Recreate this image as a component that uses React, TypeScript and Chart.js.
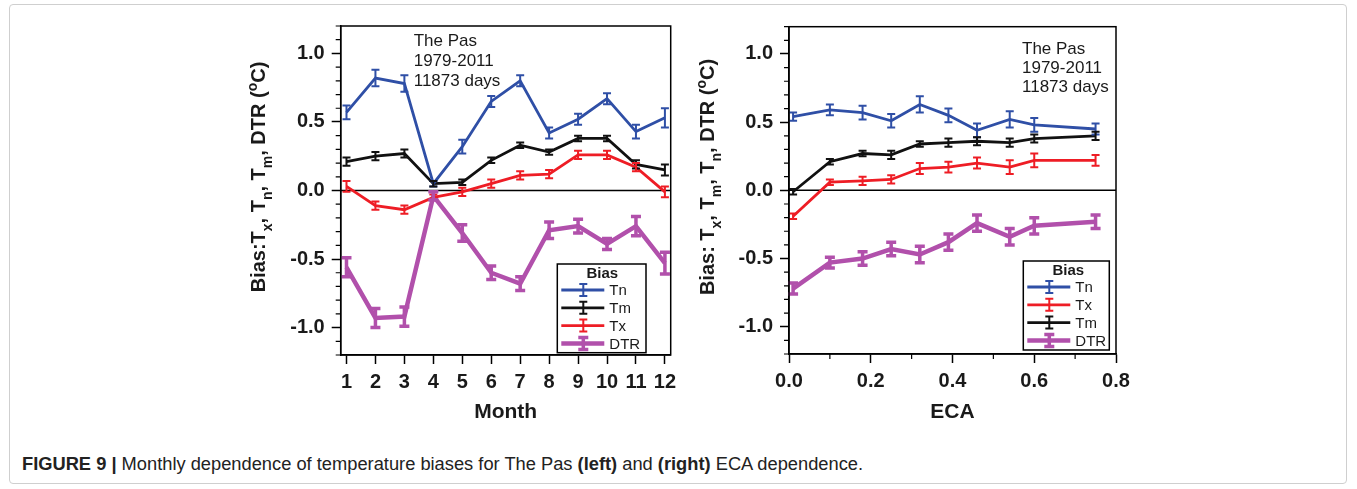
import React, { useEffect, useRef } from 'react';
import { Chart, registerables } from 'chart.js';
Chart.register(...registerables);

// ---------- data ----------
const months = [1, 2, 3, 4, 5, 6, 7, 8, 9, 10, 11, 12];
const monthTn = [0.57, 0.82, 0.78, 0.05, 0.32, 0.65, 0.80, 0.42, 0.52, 0.67, 0.43, 0.53];
const monthTnErr = [0.05, 0.06, 0.06, 0.02, 0.05, 0.04, 0.04, 0.04, 0.04, 0.04, 0.05, 0.07];
const monthTm = [0.21, 0.25, 0.27, 0.05, 0.06, 0.22, 0.33, 0.28, 0.38, 0.38, 0.19, 0.15];
const monthTmErr = [0.03, 0.03, 0.03, 0.02, 0.02, 0.02, 0.02, 0.02, 0.02, 0.02, 0.03, 0.04];
const monthTx = [0.03, -0.11, -0.14, -0.05, -0.01, 0.05, 0.11, 0.12, 0.26, 0.26, 0.17, -0.01];
const monthTxErr = [0.04, 0.03, 0.03, 0.02, 0.03, 0.03, 0.03, 0.03, 0.03, 0.03, 0.03, 0.04];
const monthDtr = [-0.56, -0.93, -0.92, -0.04, -0.31, -0.60, -0.68, -0.29, -0.26, -0.39, -0.26, -0.53];
const monthDtrErr = [0.07, 0.07, 0.07, 0.03, 0.06, 0.05, 0.05, 0.06, 0.05, 0.04, 0.07, 0.08];

const ecaBins = [0.01, 0.10, 0.18, 0.25, 0.32, 0.39, 0.46, 0.54, 0.60, 0.75];
const ecaTn = [0.54, 0.59, 0.57, 0.51, 0.63, 0.55, 0.44, 0.52, 0.48, 0.45];
const ecaTnErr = [0.03, 0.04, 0.05, 0.05, 0.06, 0.05, 0.05, 0.06, 0.05, 0.04];
const ecaTx = [-0.19, 0.06, 0.07, 0.08, 0.16, 0.17, 0.20, 0.17, 0.22, 0.22];
const ecaTxErr = [0.02, 0.02, 0.03, 0.03, 0.04, 0.04, 0.04, 0.05, 0.05, 0.04];
const ecaTm = [-0.01, 0.21, 0.27, 0.26, 0.34, 0.35, 0.36, 0.35, 0.38, 0.40];
const ecaTmErr = [0.02, 0.02, 0.02, 0.03, 0.02, 0.03, 0.03, 0.03, 0.03, 0.03];
const ecaDtr = [-0.72, -0.53, -0.50, -0.43, -0.47, -0.38, -0.24, -0.34, -0.26, -0.23];
const ecaDtrErr = [0.04, 0.04, 0.05, 0.05, 0.06, 0.06, 0.06, 0.06, 0.06, 0.05];

const yTickValues = [-1.0, -0.5, 0.0, 0.5, 1.0];
const monthTickValues = months;
const ecaTickValues = [0.0, 0.2, 0.4, 0.6, 0.8];

const annotationLines = ['The Pas', '1979-2011', '11873 days'];
const legendTitle = 'Bias';
const caption = {
  bold1: 'FIGURE 9 |',
  t1: ' Monthly dependence of temperature biases for The Pas ',
  bold2: '(left)',
  t2: ' and ',
  bold3: '(right)',
  t3: ' ECA dependence.',
};

type Seg = { t: string; k: 'n' | 'sub' | 'sup' };
const yTitleLeft: Seg[] = [
  { t: 'Bias:T', k: 'n' }, { t: 'x', k: 'sub' }, { t: ', T', k: 'n' }, { t: 'n', k: 'sub' },
  { t: ', T', k: 'n' }, { t: 'm', k: 'sub' }, { t: ', DTR (', k: 'n' }, { t: 'o', k: 'sup' }, { t: 'C)', k: 'n' },
];
const yTitleRight: Seg[] = [
  { t: 'Bias: T', k: 'n' }, { t: 'x', k: 'sub' }, { t: ', T', k: 'n' }, { t: 'm', k: 'sub' },
  { t: ', T', k: 'n' }, { t: 'n', k: 'sub' }, { t: ', DTR (', k: 'n' }, { t: 'o', k: 'sup' }, { t: 'C)', k: 'n' },
];

// ---------- styles ----------
const FONT = '"Liberation Sans", Arial, Helvetica, sans-serif';
const BLUE = '#2f4fa6';
const BLACK = '#111111';
const RED = '#ee1d25';
const PURPLE = '#b150ab';

interface Series { label: string; color: string; values: number[]; errs: number[]; lw: number; ew: number; cap: number; }

function drawRichVertical(ctx: CanvasRenderingContext2D, segs: Seg[], cx: number, cy: number, size: number) {
  ctx.save();
  ctx.translate(cx, cy);
  ctx.rotate(-Math.PI / 2);
  const fN = `bold ${size}px ${FONT}`;
  const fS = `bold ${Math.round(size * 0.7)}px ${FONT}`;
  const widths = segs.map((s) => { ctx.font = s.k === 'n' ? fN : fS; return ctx.measureText(s.t).width; });
  const total = widths.reduce((a, b) => a + b, 0);
  let x = -total / 2;
  ctx.fillStyle = '#1a1a1a';
  ctx.textAlign = 'left';
  ctx.textBaseline = 'alphabetic';
  segs.forEach((s, i) => {
    ctx.font = s.k === 'n' ? fN : fS;
    const dy = s.k === 'sub' ? size * 0.32 : s.k === 'sup' ? -size * 0.42 : 0;
    ctx.fillText(s.t, x, dy + size * 0.36);
    x += widths[i];
  });
  ctx.restore();
}

function errSymbol(ctx: CanvasRenderingContext2D, x: number, yTop: number, yBot: number, cap: number, w: number, color: string) {
  ctx.strokeStyle = color;
  ctx.lineWidth = w;
  ctx.lineCap = 'butt';
  ctx.beginPath();
  ctx.moveTo(x, yTop); ctx.lineTo(x, yBot);
  ctx.moveTo(x - cap / 2, yTop); ctx.lineTo(x + cap / 2, yTop);
  ctx.moveTo(x - cap / 2, yBot); ctx.lineTo(x + cap / 2, yBot);
  ctx.stroke();
}

interface PanelOpts {
  xs: number[];
  series: Series[];
  xMin: number; xMax: number; xKeep: number[]; xMinorStep: number | null; xDecimals: number;
  xTitle: string;
  yTitle: Seg[]; yTitleX: number; yTitleY: number;
  padding: { left: number; top: number; right: number; bottom: number };
  yAxisWidth: number; xAxisHeight: number;
  annot: { dx: number; dy: number; gap: number };
  legend: { dxRight: number; dyBottom: number; w: number; h: number };
}

function near(v: number, list: number[]) { return list.some((t) => Math.abs(t - v) < 1e-6); }

function buildConfig(p: PanelOpts): any {
  const datasets = p.series.map((s) => ({
    label: s.label,
    data: p.xs.map((x, i) => ({ x, y: s.values[i] })),
    borderColor: s.color,
    backgroundColor: s.color,
    borderWidth: s.lw,
    pointRadius: 0,
    tension: 0,
    errs: s.errs, ew: s.ew, cap: s.cap,
  }));

  const deco = {
    id: 'deco',
    beforeDatasetsDraw(chart: any) {
      const { ctx, chartArea: a, scales } = chart;
      const y0 = scales.y.getPixelForValue(0);
      ctx.save();
      ctx.strokeStyle = '#000';
      ctx.lineWidth = 1.5;
      ctx.beginPath(); ctx.moveTo(a.left, y0); ctx.lineTo(a.right, y0); ctx.stroke();
      ctx.restore();
    },
    afterDatasetsDraw(chart: any) {
      const { ctx, scales } = chart;
      ctx.save();
      chart.data.datasets.forEach((ds: any, i: number) => {
        const meta = chart.getDatasetMeta(i);
        meta.data.forEach((pt: any, j: number) => {
          const v = ds.data[j].y; const e = ds.errs[j];
          errSymbol(ctx, pt.x, scales.y.getPixelForValue(v + e), scales.y.getPixelForValue(v - e), ds.cap, ds.ew, ds.borderColor);
        });
      });
      ctx.restore();
    },
    afterDraw(chart: any) {
      const { ctx, chartArea: a, scales } = chart;
      ctx.save();
      ctx.strokeStyle = '#000';
      ctx.lineWidth = 1.5;
      ctx.strokeRect(a.left, a.top, a.right - a.left, a.bottom - a.top);
      ctx.lineWidth = 1.2;
      ctx.beginPath();
      for (let k = Math.ceil(scales.y.min * 10 - 1e-6); k <= Math.floor(scales.y.max * 10 + 1e-6); k++) {
        const v = k / 10;
        if (near(v, yTickValues)) continue;
        const py = scales.y.getPixelForValue(v);
        ctx.moveTo(a.left - 5, py); ctx.lineTo(a.left, py);
      }
      if (p.xMinorStep) {
        const n = Math.round((p.xMax - p.xMin) / p.xMinorStep);
        for (let k = 0; k <= n; k++) {
          const v = p.xMin + k * p.xMinorStep;
          if (near(v, p.xKeep)) continue;
          const px = scales.x.getPixelForValue(v);
          ctx.moveTo(px, a.bottom); ctx.lineTo(px, a.bottom + 5);
        }
      }
      ctx.stroke();
      ctx.fillStyle = '#1a1a1a';
      ctx.font = `17px ${FONT}`;
      ctx.textAlign = 'left';
      ctx.textBaseline = 'middle';
      annotationLines.forEach((t, i) => ctx.fillText(t, a.left + p.annot.dx, a.top + p.annot.dy + i * p.annot.gap));
      const L = p.legend;
      const x0 = a.right - L.dxRight - L.w;
      const y0 = a.bottom - L.dyBottom - L.h;
      ctx.fillStyle = '#fff';
      ctx.fillRect(x0, y0, L.w, L.h);
      ctx.strokeStyle = '#000';
      ctx.lineWidth = 1.5;
      ctx.strokeRect(x0, y0, L.w, L.h);
      ctx.fillStyle = '#1a1a1a';
      ctx.font = `bold 15px ${FONT}`;
      ctx.textAlign = 'center';
      ctx.fillText(legendTitle, x0 + 45, y0 + 10);
      ctx.textAlign = 'left';
      ctx.font = `15px ${FONT}`;
      chart.data.datasets.forEach((ds: any, i: number) => {
        const ly = y0 + 26 + i * 17.8;
        ctx.strokeStyle = ds.borderColor;
        ctx.lineWidth = ds.borderWidth;
        ctx.beginPath(); ctx.moveTo(x0 + 4, ly); ctx.lineTo(x0 + 47, ly); ctx.stroke();
        errSymbol(ctx, x0 + 26, ly - 6, ly + 6, ds.cap, ds.ew, ds.borderColor);
        ctx.fillStyle = '#1a1a1a';
        ctx.fillText(ds.label, x0 + 52, ly + 1);
      });
      drawRichVertical(ctx, p.yTitle, p.yTitleX, p.yTitleY, 20);
      ctx.restore();
    },
  };

  const tickFont = { family: FONT, size: 20, weight: 'bold' as const };
  return {
    type: 'line',
    data: { datasets },
    plugins: [deco],
    options: {
      animation: false,
      responsive: false,
      devicePixelRatio: 1,
      layout: { padding: p.padding },
      plugins: { legend: { display: false }, tooltip: { enabled: false } },
      scales: {
        x: {
          type: 'linear',
          min: p.xMin, max: p.xMax,
          afterFit: (s: any) => { s.height = p.xAxisHeight; },
          afterBuildTicks: (s: any) => { s.ticks = p.xKeep.map((v) => ({ value: v })); },
          ticks: {
            autoSkip: false, maxRotation: 0, padding: 6,
            color: '#1a1a1a', font: tickFont,
            callback: (v: number) => (p.xDecimals ? Number(v).toFixed(p.xDecimals) : String(Math.round(v))),
          },
          grid: { display: true, drawOnChartArea: false, drawTicks: true, tickLength: 9, tickWidth: 1.5, tickColor: '#000' },
          border: { display: true, color: '#000', width: 1.5 },
          title: { display: true, text: p.xTitle, color: '#1a1a1a', font: { family: FONT, size: 21, weight: 'bold' }, padding: { top: 0, bottom: 15 } },
        },
        y: {
          type: 'linear',
          min: -1.2, max: 1.2,
          afterFit: (s: any) => { s.width = p.yAxisWidth; },
          afterBuildTicks: (s: any) => { s.ticks = yTickValues.map((v) => ({ value: v })); },
          ticks: { autoSkip: false, padding: 7, color: '#1a1a1a', font: tickFont, callback: (v: number) => Number(v).toFixed(1) },
          grid: { display: true, drawOnChartArea: false, drawTicks: true, tickLength: 9, tickWidth: 1.5, tickColor: '#000' },
          border: { display: true, color: '#000', width: 1.5 },
        },
      },
    },
  };
}

const leftOpts: PanelOpts = {
  xs: months,
  series: [
    { label: 'Tn', color: BLUE, values: monthTn, errs: monthTnErr, lw: 2.8, ew: 2, cap: 8 },
    { label: 'Tm', color: BLACK, values: monthTm, errs: monthTmErr, lw: 2.8, ew: 2, cap: 8 },
    { label: 'Tx', color: RED, values: monthTx, errs: monthTxErr, lw: 2.8, ew: 2, cap: 8 },
    { label: 'DTR', color: PURPLE, values: monthDtr, errs: monthDtrErr, lw: 4.5, ew: 3.5, cap: 10 },
  ],
  xMin: 0.8, xMax: 12.2, xKeep: monthTickValues, xMinorStep: null, xDecimals: 0,
  xTitle: 'Month',
  yTitle: yTitleLeft, yTitleX: 28, yTitleY: 177,
  padding: { left: 0, top: 26, right: 19.3, bottom: 0 },
  yAxisWidth: 110.7, xAxisHeight: 85,
  annot: { dx: 73, dy: 15, gap: 20 },
  legend: { dxRight: 24.7, dyBottom: 2.3, w: 88.7, h: 88.7 },
};

const rightOpts: PanelOpts = {
  xs: ecaBins,
  series: [
    { label: 'Tn', color: BLUE, values: ecaTn, errs: ecaTnErr, lw: 2.8, ew: 2, cap: 8 },
    { label: 'Tx', color: RED, values: ecaTx, errs: ecaTxErr, lw: 2.8, ew: 2, cap: 8 },
    { label: 'Tm', color: BLACK, values: ecaTm, errs: ecaTmErr, lw: 2.8, ew: 2, cap: 8 },
    { label: 'DTR', color: PURPLE, values: ecaDtr, errs: ecaDtrErr, lw: 4.5, ew: 3.5, cap: 10 },
  ],
  xMin: 0, xMax: 0.8, xKeep: ecaTickValues, xMinorStep: 0.1, xDecimals: 1,
  xTitle: 'ECA',
  yTitle: yTitleRight, yTitleX: 27, yTitleY: 177,
  padding: { left: 0, top: 26.7, right: 24, bottom: 0 },
  yAxisWidth: 109, xAxisHeight: 86,
  annot: { dx: 233, dy: 22.6, gap: 19 },
  legend: { dxRight: 6.7, dyBottom: 4, w: 86, h: 89 },
};

function Panel({ opts, left }: { opts: PanelOpts; left: number }) {
  const ref = useRef<HTMLCanvasElement>(null);
  useEffect(() => {
    const chart = new Chart(ref.current as HTMLCanvasElement, buildConfig(opts));
    return () => chart.destroy();
  }, [opts]);
  return (
    <canvas ref={ref} width={460} height={440}
      style={{ position: 'absolute', left, top: 0, width: 460, height: 440 }} />
  );
}

export default function App() {
  return (
    <div style={{ position: 'fixed', left: 0, top: 0, width: 1357, height: 489, background: '#fff', overflow: 'hidden' }}>
      <div style={{ position: 'absolute', left: 9, top: 4, width: 1338, height: 480, border: '1px solid #cfcfcf', borderRadius: 4, boxSizing: 'border-box' }} />
      <Panel opts={leftOpts} left={230} />
      <Panel opts={rightOpts} left={680} />
      <div style={{ position: 'absolute', left: 22, top: 453, fontFamily: FONT, fontSize: 18.3, lineHeight: '22px', color: '#222', whiteSpace: 'nowrap' }}>
        <b>{caption.bold1}</b>{caption.t1}<b>{caption.bold2}</b>{caption.t2}<b>{caption.bold3}</b>{caption.t3}
      </div>
    </div>
  );
}
